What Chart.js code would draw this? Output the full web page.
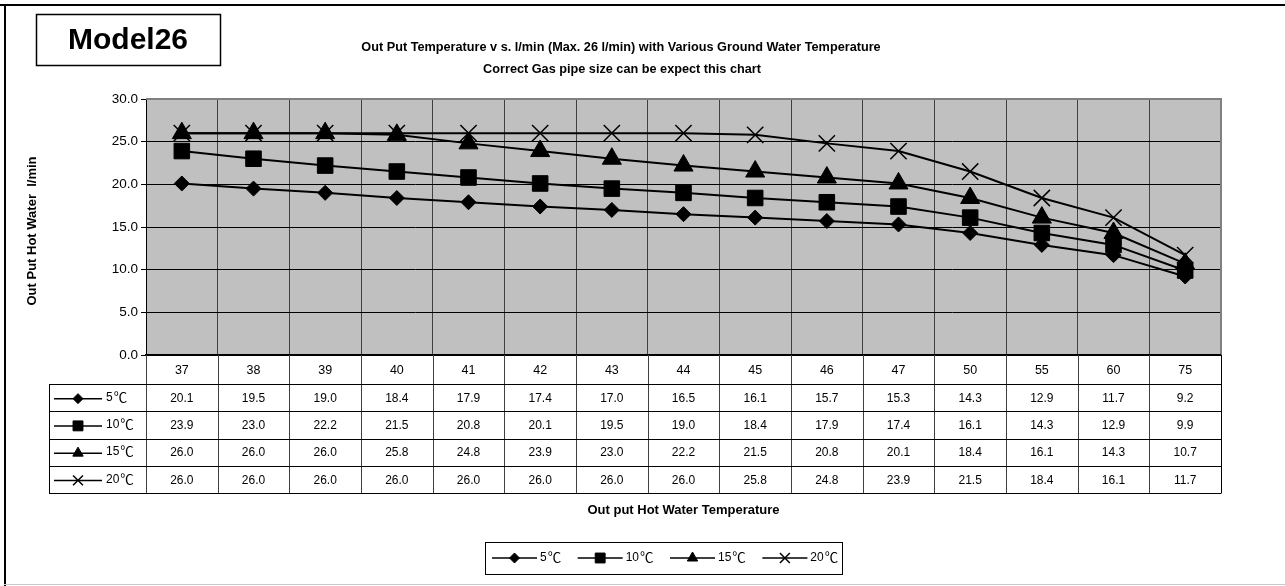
<!DOCTYPE html>
<html lang="en">
<head>
  <meta charset="UTF-8">
  <title>Model26</title>
  <script src="https://cdn.jsdelivr.net/npm/chart.js"></script>
  <style>
    body {
      margin: 0;
      padding: 0;
      background-color: #fff;
    }

    #chartBox {
      position: absolute;
      left: 0;
      top: 0;
      width: 1285px;
      height: 586px;
    }
  </style>
</head>
<body>
  <div id="chartBox">
    <canvas id="modelChart" width="1285" height="586"></canvas>
  </div>

  <script>
    // outlet temperatures (x categories)
    const categories = ['37', '38', '39', '40', '41', '42', '43', '44', '45', '46', '47', '50', '55', '60', '75'];

    // flow l/min for each ground water temperature
    const water5 = [20.1, 19.5, 19.0, 18.4, 17.9, 17.4, 17.0, 16.5, 16.1, 15.7, 15.3, 14.3, 12.9, 11.7, 9.2];
    const water10 = [23.9, 23.0, 22.2, 21.5, 20.8, 20.1, 19.5, 19.0, 18.4, 17.9, 17.4, 16.1, 14.3, 12.9, 9.9];
    const water15 = [26.0, 26.0, 26.0, 25.8, 24.8, 23.9, 23.0, 22.2, 21.5, 20.8, 20.1, 18.4, 16.1, 14.3, 10.7];
    const water20 = [26.0, 26.0, 26.0, 26.0, 26.0, 26.0, 26.0, 26.0, 25.8, 24.8, 23.9, 21.5, 18.4, 16.1, 11.7];

    const seriesNames = ['5\u2103', '10\u2103', '15\u2103', '20\u2103'];
    const yTicks = [0, 5, 10, 15, 20, 25, 30];

    const FONT = "Arial, 'Liberation Sans', sans-serif";
    const CJK = "'Noto Sans CJK JP', sans-serif";

    const titleLines = [
      'Out Put Temperature v s. l/min (Max. 26 l/min) with Various Ground Water Temperature',
      'Correct Gas pipe size can be expect this chart'
    ];

    function lineDataset(label, data, style, radius, smallRadius) {
      return {
        label: label,
        data: data,
        borderColor: '#000',
        borderWidth: 2,
        backgroundColor: '#000',
        pointStyle: style,
        pointRadius: radius,
        pointBackgroundColor: '#000',
        pointBorderColor: '#000',
        pointBorderWidth: style === 'crossRot' ? 1.5 : 1,
        tension: 0,
        legendRadius: smallRadius
      };
    }

    function drawMarker(ctx, style, radius, x, y) {
      const bw = style === 'crossRot' ? 1.5 : 1;
      ctx.save();
      ctx.fillStyle = '#000';
      ctx.strokeStyle = '#000';
      ctx.lineWidth = bw;
      Chart.helpers.drawPoint(ctx, { pointStyle: style, radius: radius, rotation: 0, borderWidth: bw }, x, y);
      ctx.restore();
    }

    function drawSample(ctx, ds, x1, x2, y, radius) {
      ctx.save();
      ctx.strokeStyle = '#000';
      ctx.lineWidth = 1.5;
      ctx.beginPath();
      ctx.moveTo(x1, y);
      ctx.lineTo(x2, y);
      ctx.stroke();
      ctx.restore();
      drawMarker(ctx, ds.pointStyle, radius, (x1 + x2) / 2, y);
    }

    // "5℃" : digits in Arial, the degree sign in a CJK font (wide glyph)
    function drawTempLabel(ctx, text, x, y) {
      const num = text.replace('\u2103', '');
      ctx.save();
      ctx.fillStyle = '#000';
      ctx.textAlign = 'left';
      ctx.textBaseline = 'middle';
      ctx.font = '12px ' + FONT;
      ctx.fillText(num, x, y);
      const w = ctx.measureText(num).width;
      ctx.font = '13.5px ' + CJK;
      ctx.fillText('\u2103', x + w + 1, y - 1);
      ctx.restore();
      return w + 19;
    }

    const sheetPlugin = {
      id: 'sheet',
      beforeDraw(chart) {
        const ctx = chart.ctx;
        const a = chart.chartArea;
        ctx.save();
        ctx.fillStyle = '#fff';
        ctx.fillRect(0, 0, chart.width, chart.height);
        ctx.fillStyle = '#c0c0c0';
        ctx.fillRect(a.left, a.top, a.right - a.left, a.bottom - a.top);
        ctx.restore();
      },
      beforeDatasetsDraw(chart) {
        const ctx = chart.ctx;
        const a = chart.chartArea;
        ctx.save();
        ctx.strokeStyle = '#808080';
        ctx.lineWidth = 2;
        ctx.beginPath();
        ctx.moveTo(a.left, a.top);
        ctx.lineTo(a.right, a.top);
        ctx.lineTo(a.right, a.bottom);
        ctx.stroke();
        ctx.strokeStyle = '#000';
        ctx.beginPath();
        ctx.moveTo(a.left, a.bottom);
        ctx.lineTo(a.right, a.bottom);
        ctx.stroke();
        ctx.restore();
      },
      afterDraw(chart) {
        const ctx = chart.ctx;
        const a = chart.chartArea;
        const xs = chart.scales.x;
        const colW = (a.right - a.left) / categories.length;
        const headBottom = 384;
        const rowH = 27.25;
        const tableLeft = 49;
        const tableBottom = headBottom + rowH * chart.data.datasets.length;

        ctx.save();

        // data table lines
        ctx.lineWidth = 1;
        ctx.strokeStyle = '#404040';
        for (let i = 0; i <= categories.length; i++) {
          const x = Math.round(a.left + i * colW) + 0.5;
          ctx.beginPath();
          ctx.moveTo(x, a.bottom);
          ctx.lineTo(x, tableBottom);
          ctx.stroke();
        }
        ctx.strokeStyle = '#000';
        for (let r = 0; r <= chart.data.datasets.length; r++) {
          const y = Math.round(headBottom + r * rowH) + 0.5;
          ctx.beginPath();
          ctx.moveTo(tableLeft, y);
          ctx.lineTo(a.right, y);
          ctx.stroke();
        }
        ctx.beginPath();
        ctx.moveTo(tableLeft + 0.5, headBottom);
        ctx.lineTo(tableLeft + 0.5, tableBottom);
        ctx.moveTo(a.right + 0.5, a.bottom);
        ctx.lineTo(a.right + 0.5, tableBottom + 0.5);
        ctx.stroke();

        // table text
        ctx.textBaseline = 'middle';
        chart.data.datasets.forEach((ds, r) => {
          const yc = headBottom + r * rowH + rowH / 2 + 1;
          drawSample(ctx, ds, 54, 102, yc, ds.legendRadius);
          drawTempLabel(ctx, seriesNames[r], 106, yc - 1);
          ctx.fillStyle = '#000';
          ctx.font = '12px ' + FONT;
          ctx.textAlign = 'center';
          ds.data.forEach((v, i) => {
            ctx.fillText(v.toFixed(1), xs.getPixelForValue(i), yc);
          });
        });

        // titles
        ctx.fillStyle = '#000';
        ctx.textAlign = 'center';
        ctx.font = 'bold 12.7px ' + FONT;
        ctx.fillText(titleLines[0], 621, 47);
        ctx.fillText(titleLines[1], 622, 69);

        ctx.font = 'bold 13px ' + FONT;
        ctx.fillText('Out put Hot Water Temperature', (a.left + a.right) / 2, 510);

        ctx.save();
        ctx.translate(32, 231);
        ctx.rotate(-Math.PI / 2);
        ctx.fillText('Out Put Hot Water  l/min', 0, 0);
        ctx.restore();

        // model box
        ctx.lineWidth = 1.5;
        ctx.strokeRect(36.5, 14.5, 184, 51);
        ctx.font = 'bold 30px ' + FONT;
        ctx.fillText('Model26', 128, 41);

        // legend
        ctx.lineWidth = 1;
        ctx.strokeRect(485.5, 542.5, 357, 32);
        let lx = 492;
        chart.data.datasets.forEach((ds, r) => {
          drawSample(ctx, ds, lx, lx + 45, 558, ds.legendRadius);
          const tw = drawTempLabel(ctx, seriesNames[r], lx + 48, 558);
          lx += 48 + tw + 12;
        });

        // page frame
        ctx.fillStyle = '#000';
        ctx.fillRect(0, 4, chart.width, 2);
        ctx.fillRect(4, 4, 2, chart.height - 4);
        ctx.fillStyle = '#c8c8c8';
        ctx.fillRect(4, 584, chart.width, 1);

        ctx.restore();
      }
    };

    const ctx = document.getElementById('modelChart').getContext('2d');
    const myChart = new Chart(ctx, {
      type: 'line',
      data: {
        labels: categories,
        datasets: [
          lineDataset(seriesNames[0], water5, 'rectRot', 7.5, 5),
          lineDataset(seriesNames[1], water10, 'rect', 11, 7),
          lineDataset(seriesNames[2], water15, 'triangle', 11, 6),
          lineDataset(seriesNames[3], water20, 'crossRot', 11.5, 7)
        ]
      },
      options: {
        responsive: false,
        animation: false,
        layout: {
          padding: { left: 0, top: 99, right: 64, bottom: 0 }
        },
        plugins: {
          legend: { display: false },
          title: { display: false },
          tooltip: { enabled: false }
        },
        scales: {
          x: {
            offset: true,
            afterFit: (scale) => { scale.height = 231; },
            grid: {
              offset: true,
              color: '#404040',
              lineWidth: 1,
              drawTicks: false
            },
            border: { color: '#000', width: 2 },
            ticks: {
              color: '#000',
              font: { family: FONT, size: 12.5 },
              padding: 8,
              maxRotation: 0,
              autoSkip: false
            }
          },
          y: {
            min: 0,
            max: 30,
            afterFit: (scale) => { scale.width = 146; },
            afterBuildTicks: (scale) => {
              scale.ticks = yTicks.map(v => ({ value: v }));
            },
            grid: {
              color: '#000',
              lineWidth: 1,
              tickLength: 5,
              tickColor: '#000'
            },
            border: { color: '#000', width: 1 },
            ticks: {
              color: '#000',
              font: { family: FONT, size: 13.5 },
              padding: 3,
              callback: (v) => Number(v).toFixed(1)
            }
          }
        }
      },
      plugins: [sheetPlugin]
    });
  </script>
</body>
</html>
